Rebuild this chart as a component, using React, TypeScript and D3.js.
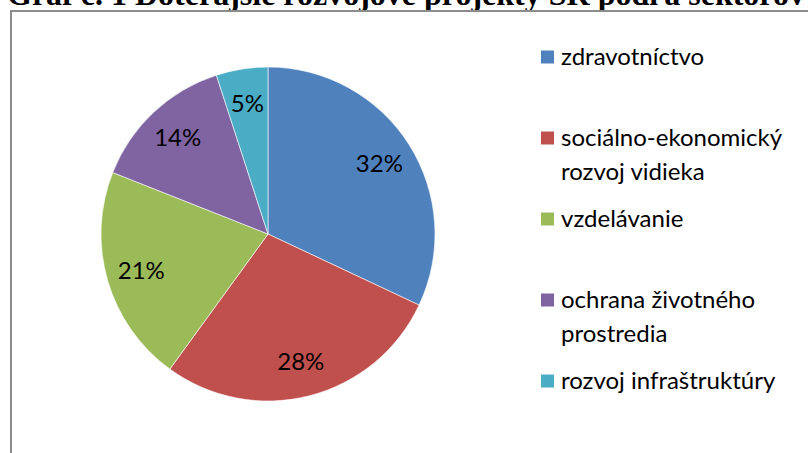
import React, { useRef, useEffect } from 'react';
import * as d3 from 'd3';

const title = 'Graf č. 1 Doterajšie rozvojové projekty SR podľa sektorov';
const categories = [
  'zdravotníctvo',
  'sociálno-ekonomický rozvoj vidieka',
  'vzdelávanie',
  'ochrana životného prostredia',
  'rozvoj infraštruktúry',
];
// how the legend wraps each category
const legendLines = [
  ['zdravotníctvo'],
  ['sociálno-ekonomický', 'rozvoj vidieka'],
  ['vzdelávanie'],
  ['ochrana životného', 'prostredia'],
  ['rozvoj infraštruktúry'],
];
const shares = [32, 28, 21, 14, 5];
const colors = ['#4f81bd', '#c0504d', '#9bbb59', '#8064a2', '#4bacc6'];

const W = 808;
const H = 453;
const FONT = 'Lato, "Noto Sans", sans-serif';

const App: React.FC = () => {
  const svgRef = useRef<SVGSVGElement | null>(null);

  useEffect(() => {
    const svg = d3.select(svgRef.current!);
    svg.selectAll('*').remove();

    // title, clipped at the top of the page like in the source
    svg.append('text')
      .attr('x', 7)
      .attr('y', 5)
      .attr('font-family', '"Liberation Serif", "Times New Roman", serif')
      .attr('font-weight', 'bold')
      .attr('font-size', 32)
      .attr('fill', '#000')
      .text(title);

    // chart frame
    svg.append('rect')
      .attr('x', 11)
      .attr('y', 11)
      .attr('width', W + 20)
      .attr('height', H + 20)
      .attr('fill', '#fff')
      .attr('stroke', '#8c8c8c')
      .attr('stroke-width', 2);

    const data = categories.map((c, i) => ({ name: c, value: shares[i] }));
    const cx = 268;
    const cy = 234;
    const r = 167;

    const pie = d3.pie<any>().sort(null).value((d) => d.value);
    const arc = d3.arc<d3.PieArcDatum<any>>().innerRadius(0).outerRadius(r);
    const labelArc = d3.arc<d3.PieArcDatum<any>>()
      .innerRadius(r * 0.79)
      .outerRadius(r * 0.79);

    const color = d3.scaleOrdinal<string, string>().domain(categories).range(colors);

    const g = svg.append('g').attr('transform', `translate(${cx},${cy})`);
    const arcs = pie(data);

    g.selectAll('path')
      .data(arcs)
      .enter()
      .append('path')
      .attr('d', arc)
      .attr('fill', (d) => color(d.data.name))
      .attr('stroke', '#fff')
      .attr('stroke-width', 0.6);

    g.selectAll('text')
      .data(arcs)
      .enter()
      .append('text')
      .attr('transform', (d) => `translate(${labelArc.centroid(d)})`)
      .attr('text-anchor', 'middle')
      .attr('dy', '0.35em')
      .attr('font-family', FONT)
      .attr('font-size', 24)
      .attr('fill', '#000')
      .text((d) => `${d.data.value}%`);

    // legend
    const ly = d3.scalePoint<string>().domain(categories).range([57, 381]);
    const legend = svg.append('g');
    const items = legend.selectAll('g')
      .data(categories)
      .enter()
      .append('g')
      .attr('transform', (d) => `translate(541,${ly(d)})`);

    items.append('rect')
      .attr('x', 0)
      .attr('y', -6.5)
      .attr('width', 13)
      .attr('height', 13)
      .attr('fill', (d) => color(d));

    items.append('text')
      .attr('x', 20)
      .attr('font-family', FONT)
      .attr('font-size', 24)
      .attr('fill', '#000')
      .selectAll('tspan')
      .data((d, i) => legendLines[i])
      .enter()
      .append('tspan')
      .attr('x', 20)
      .attr('y', (d, j) => j * 34)
      .attr('dy', '0.35em')
      .text((d) => d);
  }, []);

  return (
    <svg
      ref={svgRef}
      width={W}
      height={H}
      style={{ position: 'absolute', left: 0, top: 0 }}
    />
  );
};

export default App;
